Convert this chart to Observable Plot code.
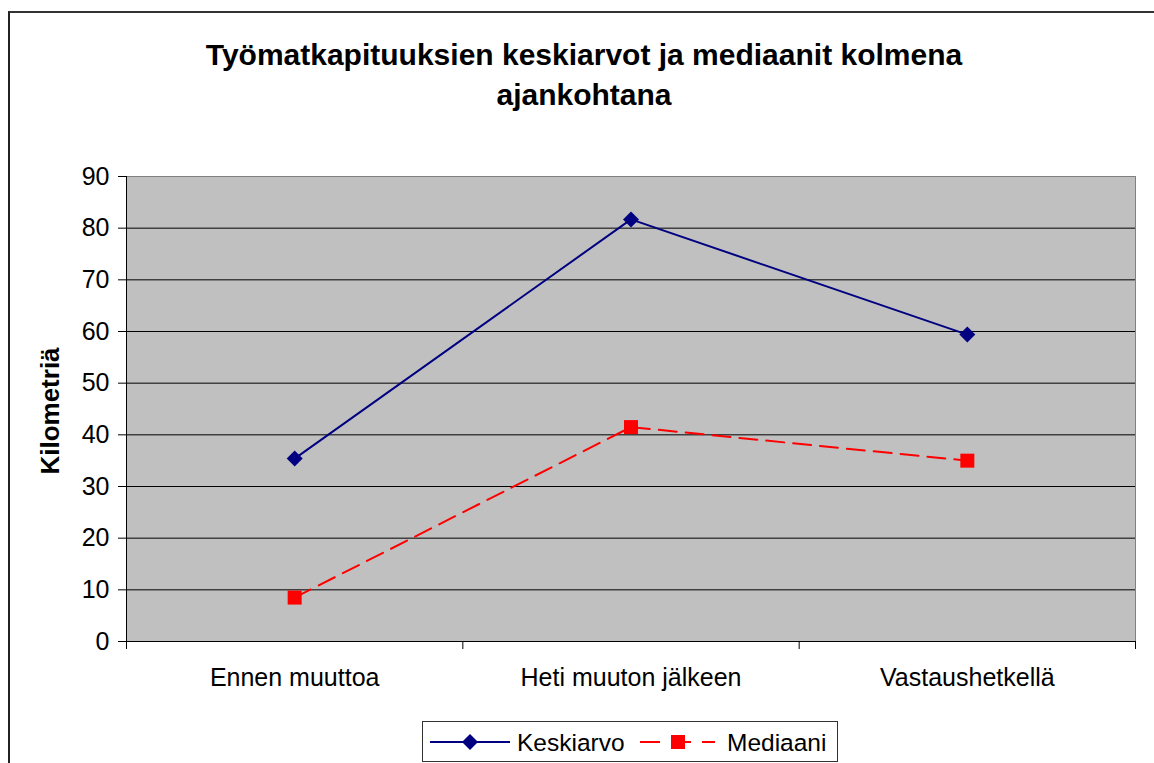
<!DOCTYPE html>
<html><head><meta charset="utf-8">
<script src="https://cdn.jsdelivr.net/npm/d3@7"></script>
<script src="https://cdn.jsdelivr.net/npm/@observablehq/plot@0.6"></script>
<style>
html,body{margin:0;padding:0;background:#fff;overflow:hidden;}
#wrap{position:relative;width:1154px;height:763px;font-family:"Liberation Sans",Arial,sans-serif;overflow:hidden;}
#border{position:absolute;left:8px;top:11px;width:1300px;height:900px;border-left:2px solid #222;border-top:2px solid #333;}
#title{position:absolute;left:0;top:35px;width:1168px;text-align:center;font-weight:bold;font-size:30px;line-height:40px;color:#000;}
#chart{position:absolute;left:0;top:0;}
#legend{position:absolute;left:422px;top:721px;width:416px;height:41px;box-sizing:border-box;border:1px solid #333;background:#fff;}
</style></head>
<body>
<div id="wrap">
  <div id="border"></div>
  <div id="title">Työmatkapituuksien keskiarvot ja mediaanit kolmena<br>ajankohtana</div>
  <div id="chart"></div>
  <div id="legend"></div>
</div>
<script>
const categories = ["Ennen muuttoa", "Heti muuton jälkeen", "Vastaushetkellä"];
const keskiarvo = [35.4, 81.7, 59.4];
const mediaani = [8.5, 41.5, 35.0];
const yTicks = [0, 10, 20, 30, 40, 50, 60, 70, 80, 90];
const seriesNames = ["Keskiarvo", "Mediaani"];
const yLabel = "Kilometriä";

const blue = "#000080", red = "#ff0000";

const diamond = {draw(ctx, size){ const h = Math.sqrt(size/Math.PI); ctx.moveTo(0,-h); ctx.lineTo(h,0); ctx.lineTo(0,h); ctx.lineTo(-h,0); ctx.closePath(); }};
const square = {draw(ctx, size){ const h = Math.sqrt(size/Math.PI); ctx.rect(-h,-h,2*h,2*h); }};

const kData = categories.map((c,i) => ({x: i + 0.5, y: keskiarvo[i], cat: c}));
const mData = categories.map((c,i) => ({x: i + 0.5, y: mediaani[i], cat: c}));
const boundaries = d3.range(categories.length + 1);
const centers = categories.map((c,i) => i + 0.5);

const chart = Plot.plot({
  width: 1154, height: 763,
  marginLeft: 126, marginRight: 19, marginTop: 176, marginBottom: 122,
  style: {fontSize: "25px", fontFamily: '"Liberation Sans", Arial, sans-serif', background: "transparent", color: "#000"},
  x: {domain: [0, categories.length], label: null},
  y: {domain: [0, 90], label: null},
  marks: [
    Plot.frame({fill: "#c0c0c0", stroke: "#808080"}),
    Plot.gridY(yTicks.filter(t => t > 0 && t < 90), {stroke: "#000", strokeOpacity: 1}),
    Plot.ruleX([0], {stroke: "#000"}),
    Plot.ruleY([0], {stroke: "#000"}),
    Plot.axisY(yTicks, {tickSize: 8, tickPadding: 9, label: null, stroke: "#000"}),
    Plot.axisX(boundaries, {tickSize: 8, tickFormat: () => "", label: null, stroke: "#000"}),
    Plot.axisX(centers, {tickSize: 0, tickPadding: 27, tickFormat: d => categories[Math.floor(d)], label: null}),
    Plot.text([yLabel], {frameAnchor: "left", textAnchor: "middle", rotate: -90, dx: -76, dy: 2, fontWeight: "bold", fontSize: 26}),
    Plot.line(kData, {x: "x", y: "y", stroke: blue, strokeWidth: 2}),
    Plot.line(mData, {x: "x", y: "y", stroke: red, strokeWidth: 2, strokeDasharray: "18,9"}),
    Plot.dot(kData, {x: "x", y: "y", symbol: diamond, r: 8, fill: blue, stroke: "none"}),
    Plot.dot(mData, {x: "x", y: "y", symbol: square, r: 7, fill: red, stroke: "none"})
  ]
});
document.getElementById("chart").appendChild(chart);

// legend
const lg = d3.select("#legend").append("svg").attr("width", 414).attr("height", 39)
  .style("font-family", '"Liberation Sans", Arial, sans-serif').style("font-size", "24.5px");
const cy = 20;
lg.append("line").attr("x1", 7).attr("x2", 87).attr("y1", cy).attr("y2", cy).attr("stroke", blue).attr("stroke-width", 2);
lg.append("path").attr("d", `M47,${cy-8}L55,${cy}L47,${cy+8}L39,${cy}Z`).attr("fill", blue);
lg.append("text").attr("x", 94).attr("y", cy).attr("dy", "0.35em").text(seriesNames[0]);
lg.append("line").attr("x1", 217).attr("x2", 292).attr("y1", cy).attr("y2", cy).attr("stroke", red).attr("stroke-width", 2).attr("stroke-dasharray", "20,11");
lg.append("rect").attr("x", 248).attr("y", cy-7).attr("width", 14).attr("height", 14).attr("fill", red);
lg.append("text").attr("x", 304).attr("y", cy).attr("dy", "0.35em").text(seriesNames[1]);
</script>
</body></html>
